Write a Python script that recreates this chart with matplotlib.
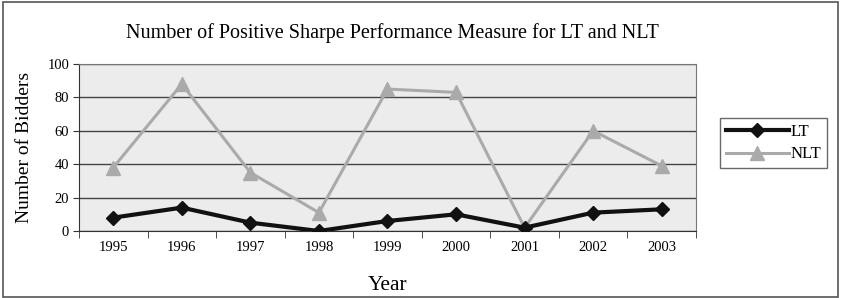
import matplotlib.pyplot as plt
from matplotlib.patches import Rectangle

years = ["1995", "1996", "1997", "1998", "1999", "2000", "2001", "2002", "2003"]
lt = [8, 14, 5, 0, 6, 10, 2, 11, 13]
nlt = [38, 88, 35, 11, 85, 83, 2, 60, 39]

plt.rcParams['font.family'] = ['Liberation Serif', 'DejaVu Serif']

fig = plt.figure(figsize=(8.41, 2.98), dpi=100)
fig.patches.append(Rectangle((0.004, 0.005), 0.992, 0.988, transform=fig.transFigure,
                             fill=False, edgecolor='#555555', linewidth=1.2))

ax = fig.add_axes([0.0939, 0.2248, 0.7337, 0.5604])
ax.set_facecolor('#ececec')
x = list(range(len(years)))

ax.plot(x, nlt, color='#aaaaaa', lw=2.2, marker='^', ms=10, mfc='#aaaaaa', mec='#aaaaaa',
        label='NLT', zorder=3)
ax.plot(x, lt, color='#111111', lw=3, marker='D', ms=7, mfc='#111111', mec='#111111',
        label='LT', zorder=4)

ax.set_xlim(-0.5, len(years) - 0.5)
ax.set_ylim(0, 100)
ax.set_yticks(range(0, 101, 20))
ax.set_xticks(x)
ax.set_xticklabels(years)
ax.set_xticks([i - 0.5 for i in range(len(years) + 1)], minor=True)
ax.tick_params(axis='x', which='major', length=0, pad=7, labelsize=10.5)
ax.tick_params(axis='x', which='minor', length=5, direction='out', color='#333333')
ax.tick_params(axis='y', length=4, direction='out', color='#333333', labelsize=10.5, pad=3)
ax.yaxis.grid(True, color='#444444', lw=1)
ax.set_axisbelow(True)
for s in ['top', 'right']:
    ax.spines[s].set_color('#777777')
for s in ['left', 'bottom']:
    ax.spines[s].set_color('#333333')

ax.set_ylabel('Number of Bidders', fontsize=14, labelpad=10)
ax.set_xlabel('Year', fontsize=15.5, labelpad=16)
fig.text(0.467, 0.89, 'Number of Positive Sharpe Performance Measure for LT and NLT',
         ha='center', va='center', fontsize=14.5)

h, l = ax.get_legend_handles_labels()
leg = fig.legend(h[::-1], l[::-1], loc='center left', bbox_to_anchor=(0.856, 0.52),
                 fontsize=12, frameon=True, fancybox=False, edgecolor='#444444',
                 handlelength=3.8, borderpad=0.35, labelspacing=0.4, handletextpad=0.1,
                 borderaxespad=0)
leg.get_frame().set_linewidth(1)

fig.savefig('out.png', dpi=100)
